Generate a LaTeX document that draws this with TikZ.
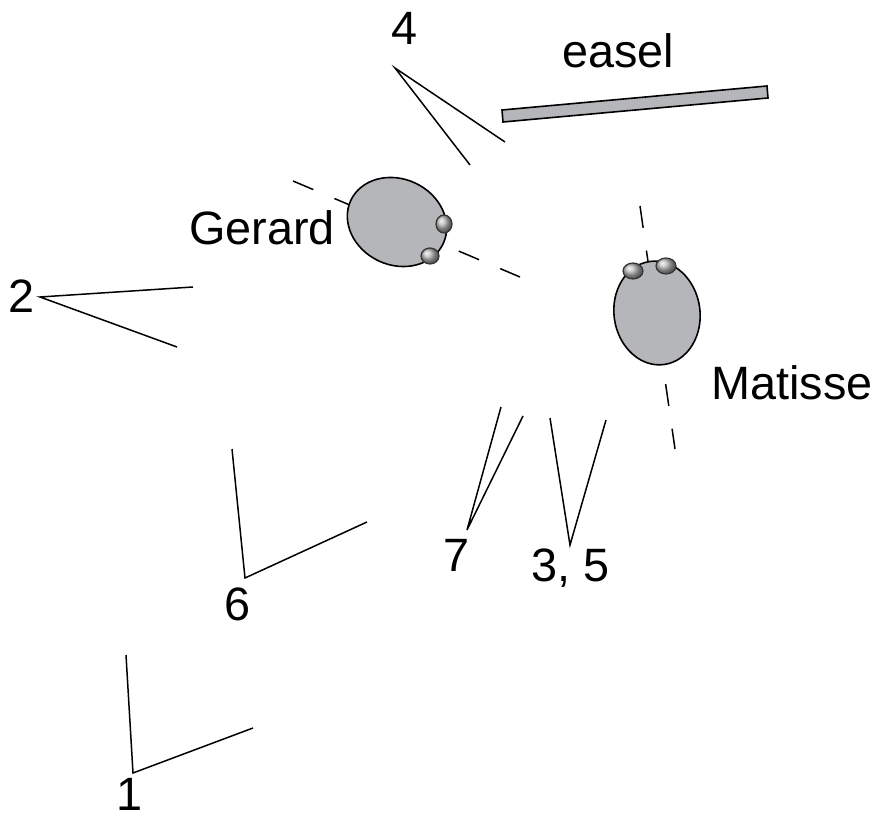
\documentclass[tikz,border=0pt]{standalone}
\usepackage{fontspec}
\setmainfont{Liberation Sans}
\usepackage{tikz}
\definecolor{headgray}{RGB}{181,182,186}

\begin{document}
\begin{tikzpicture}[x=0.5pt,y=-0.5pt,
    lbl/.style={font=\fontsize{23.4}{28}\selectfont, inner sep=0pt, anchor=base},
    ray/.style={line width=0.75pt},
    gaze/.style={line width=0.75pt, dash pattern=on 11pt off 11.5pt},
    head/.style={fill=headgray, draw=black, line width=0.8pt},
    eye/.style={ball color=gray!55, draw=black!80, line width=0.6pt}]
    \useasboundingbox (0,0) rectangle (874,817);

    % Labels
    \node[lbl] (four) at (405,45) {4};
    \node[lbl] (easel) at (618,68) {easel};
    \node[lbl] (gerard) at (262,245) {Gerard};
    \node[lbl] (matisse) at (792,400) {Matisse};
    \node[lbl] (two) at (22,313) {2};
    \node[lbl] (seven) at (457,572) {7};
    \node[lbl] (threefive) at (571,582) {3, 5};
    \node[lbl] (six) at (238,621) {6};
    \node[lbl] (one) at (130,811) {1};

    % Corners of the views
    \coordinate (v4) at (395,68);
    \coordinate (v4a) at (470,165);
    \coordinate (v4b) at (505,142);
    \coordinate (v2) at (40,297);
    \coordinate (v2a) at (193,287);
    \coordinate (v2b) at (177,347);
    \coordinate (v6) at (245,578);
    \coordinate (v6a) at (232,449);
    \coordinate (v6b) at (367,522);
    \coordinate (v1) at (133,773);
    \coordinate (v1a) at (126,655);
    \coordinate (v1b) at (253,728);
    \coordinate (v7) at (467,530);
    \coordinate (v7a) at (501,407);
    \coordinate (v7b) at (523,416);
    \coordinate (v35) at (570,545);
    \coordinate (v35a) at (550,418);
    \coordinate (v35b) at (606,420);

    % Views
    \draw[ray] (v4a) -- (v4) -- (v4b);
    \draw[ray] (v2a) -- (v2) -- (v2b);
    \draw[ray] (v6a) -- (v6) -- (v6b);
    \draw[ray] (v1a) -- (v1) -- (v1b);
    \draw[ray] (v7a) -- (v7) -- (v7b);
    \draw[ray] (v35a) -- (v35) -- (v35b);

    % Easel
    \filldraw[head] (502,110) -- (767,86) -- (768,98) -- (503,122) -- cycle;

    % Lines of sight
    \coordinate (g1) at (293,181);
    \coordinate (g2) at (520,277);
    \coordinate (m1) at (640,206);
    \coordinate (m2) at (675,449);
    \draw[gaze] (g1) -- (g2);
    \draw[gaze] (m1) -- (m2);

    % Heads
    \filldraw[head, rotate around={-25:(397,222)}] (397,222) ellipse [x radius=51, y radius=43];
    \filldraw[head, rotate around={8:(657,313)}] (657,313) ellipse [x radius=43, y radius=52];

    % Eyes
    \shadedraw[eye] (444,224) ellipse [x radius=8, y radius=9];
    \shadedraw[eye] (430,256) ellipse [x radius=9, y radius=8];
    \shadedraw[eye] (633,271) ellipse [x radius=10, y radius=8];
    \shadedraw[eye] (666,266) ellipse [x radius=10, y radius=8];
\end{tikzpicture}
\end{document}
